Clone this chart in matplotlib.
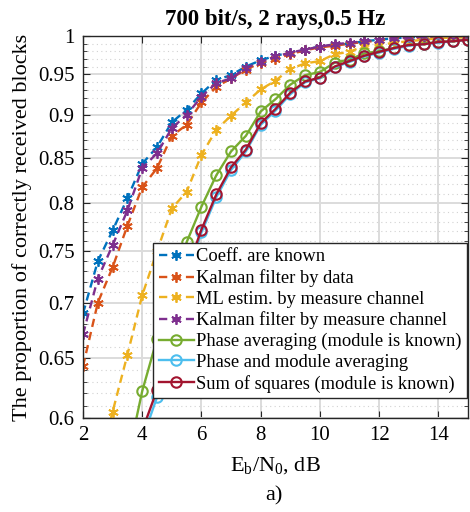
import numpy as np
import matplotlib
matplotlib.use("Agg")
import matplotlib.pyplot as plt
from matplotlib.ticker import FixedLocator, FixedFormatter, NullFormatter

plt.rcParams['font.family'] = ['Liberation Serif', 'DejaVu Serif']
plt.rcParams['mathtext.fontset'] = 'custom'
plt.rcParams['mathtext.rm'] = 'Liberation Serif'
plt.rcParams['mathtext.it'] = 'Liberation Serif:italic'

# Eb/N0 grid, dB
snr = [2, 2.5, 3, 3.5, 4, 4.5, 5, 5.5, 6, 6.5, 7, 7.5, 8, 8.5, 9,
       9.5, 10, 10.5, 11, 11.5, 12, 12.5, 13, 13.5, 14, 14.5, 15]

coeff_known = [0.690, 0.740, 0.771, 0.805, 0.843, 0.862, 0.891, 0.906, 0.926,
               0.943, 0.949, 0.960, 0.968, 0.974, 0.978, 0.982, 0.986, 0.988,
               0.990, 0.993, 0.995, 0.997, 0.998, 0.999, 0.999, 1.0, 1.0]
kalman_data = [0.643, 0.700, 0.734, 0.776, 0.817, 0.838, 0.875, 0.888, 0.915,
               0.934, 0.945, 0.956, 0.965, 0.970, 0.976, 0.981, 0.985, 0.987,
               0.990, 0.992, 0.994, 0.996, 0.997, 0.998, 0.999, 0.999, 1.0]
ml_measure = [0.520, 0.560, 0.605, 0.653, 0.707, 0.750, 0.794, 0.812, 0.853,
              0.882, 0.899, 0.915, 0.931, 0.942, 0.957, 0.964, 0.967, 0.976,
              0.979, 0.987, 0.988, 0.991, 0.993, 0.995, 0.997, 0.998, 0.998]
kalman_measure = [0.671, 0.723, 0.756, 0.792, 0.838, 0.855, 0.884, 0.900, 0.922,
                  0.939, 0.945, 0.958, 0.966, 0.973, 0.978, 0.982, 0.986, 0.989,
                  0.991, 0.993, 0.995, 0.997, 0.998, 0.999, 1.0, 1.0, 1.0]
nan = np.nan
phase_avg = [nan, nan, nan, 0.567, 0.622, 0.667, 0.715, 0.759, 0.796,
             0.830, 0.857, 0.875, 0.904, 0.919, 0.937, 0.949, 0.953, 0.965,
             0.969, 0.977, 0.980, 0.984, 0.988, 0.990, 0.992, 0.993, 0.995]
phase_mod_avg = [nan, nan, nan, 0.540, 0.583, 0.617, 0.675, 0.726, 0.769,
                 0.806, 0.836, 0.857, 0.888, 0.905, 0.925, 0.940, 0.945, 0.959,
                 0.966, 0.973, 0.978, 0.983, 0.987, 0.989, 0.991, 0.993, 0.995]
sum_squares = [nan, nan, nan, 0.550, 0.590, 0.623, 0.680, 0.730, 0.772,
               0.809, 0.839, 0.859, 0.890, 0.907, 0.927, 0.941, 0.946, 0.960,
               0.967, 0.974, 0.979, 0.984, 0.988, 0.989, 0.992, 0.993, 0.995]

labels = ["Coeff. are known", "Kalman filter by data",
          "ML estim. by measure channel", "Kalman filter by measure channel",
          "Phase averaging (module is known)", "Phase and module averaging",
          "Sum of squares (module is known)"]
y_ticks = [0.6, 0.65, 0.7, 0.75, 0.8, 0.85, 0.9, 0.95, 1.0]
y_tick_labels = ["0.6", "0.65", "0.7", "0.75", "0.8", "0.85", "0.9", "0.95", "1"]
x_ticks = [2, 4, 6, 8, 10, 12, 14]

colors = ['#0072BD', '#D95319', '#EDB120', '#7E2F8E', '#77AC30', '#4DBEEE', '#A2142F']

fig = plt.figure(figsize=(4.7, 5.12), dpi=100)
ax = fig.add_axes([0.1766, 0.1836, 0.8191, 0.7461])

asterisk = (6, 2, 0)
dashed = [coeff_known, kalman_data, ml_measure, kalman_measure]
for i, series in enumerate(dashed):
    ax.plot(snr, series, color=colors[i], linestyle='--', dashes=(3.5, 2.2),
            linewidth=1.7, marker=asterisk, markersize=7.5, markeredgewidth=1.3,
            label=labels[i])

solid = [phase_avg, phase_mod_avg, sum_squares]
for j, series in enumerate(solid):
    i = j + 4
    ax.plot(snr, series, color=colors[i], linestyle='-', linewidth=1.7,
            marker='o', markersize=7.5, markerfacecolor='none',
            markeredgewidth=1.5, label=labels[i])

ax.set_yscale('log')
ax.set_xlim(2, 15)
ax.set_ylim(0.6, 1.0)
ax.yaxis.set_major_locator(FixedLocator(y_ticks))
ax.yaxis.set_major_formatter(FixedFormatter(y_tick_labels))
ax.yaxis.set_minor_locator(FixedLocator(np.arange(0.61, 1.0, 0.01)))
ax.yaxis.set_minor_formatter(NullFormatter())
ax.set_xticks(x_ticks)
ax.set_xticklabels([str(t) for t in x_ticks])

ax.grid(True, which='major', color='#dcdcdc', linewidth=1.4)
ax.grid(True, which='minor', axis='y', color='#d2d2d2', linestyle=(0, (1, 3)), linewidth=0.8)
ax.set_axisbelow(True)

ax.tick_params(which='both', direction='in', top=True, right=True,
               labelsize=15, colors='#262626', labelcolor='black', pad=6)
ax.tick_params(which='major', length=5)
ax.tick_params(which='minor', length=3)
for s in ax.spines.values():
    s.set_color('#262626')
    s.set_linewidth(1.0)

ax.set_title("700 bit/s, 2 rays,0.5 Hz", fontsize=16.5, fontweight='bold', pad=8)
ax.set_ylabel("The proportion of correctly received blocks", fontsize=16, labelpad=4)
ax.set_xlabel(r"E$_\mathrm{b}$/N$_\mathrm{0}$, dB", fontsize=16, labelpad=7)
fig.text(0.582, 0.031, "a)", fontsize=16, ha='center', va='center')

leg = ax.legend(loc='lower right', bbox_to_anchor=(0.997, 0.052), borderaxespad=0,
                fontsize=13.3, frameon=True, fancybox=False, framealpha=1,
                edgecolor='#262626', handlelength=1.9, handletextpad=0.1,
                labelspacing=0.2, borderpad=0.3)
leg.get_frame().set_linewidth(1.0)

fig.savefig("out.png", dpi=100)
